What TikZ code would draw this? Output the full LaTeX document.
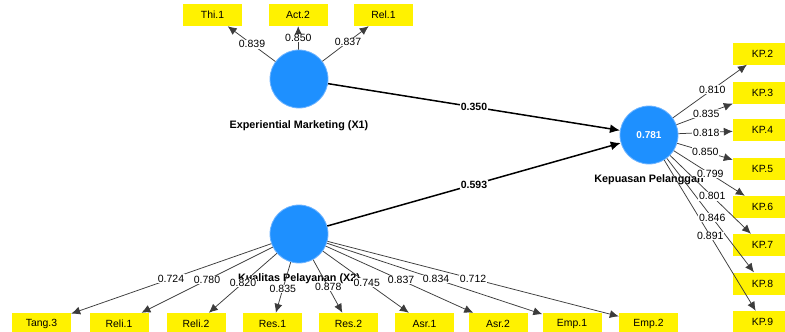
\documentclass[tikz,border=0pt]{standalone}
\usepackage{fontspec}
\setmainfont{Liberation Sans}
\usetikzlibrary{arrows.meta,calc}
\definecolor{lvblue}{RGB}{30,144,255}
\definecolor{lvedge}{RGB}{110,180,255}
\definecolor{loadgray}{RGB}{60,60,60}
\begin{document}
\begin{tikzpicture}[x=1pt,y=-1pt,
 lv/.style={circle,fill=lvblue,draw=lvedge,line width=0.8pt,minimum size=58pt,inner sep=0pt,font=\fontsize{10}{11}\selectfont\bfseries,text=white},
 ind/.style={rectangle,fill=yellow,minimum width=59pt,minimum height=22pt,inner sep=0pt,font=\fontsize{10.4}{11}\selectfont},
 loadarrow/.style={draw=loadgray,line width=0.75pt,-{Latex[length=9pt,width=8pt]}},
 strpath/.style={draw=black,line width=1.5pt,-{Latex[length=10pt,width=9pt]}},
 ll/.style={fill=white,inner sep=0.6pt,font=\fontsize{10.5}{11}\selectfont},
 pl/.style={fill=white,inner sep=0.6pt,font=\fontsize{10.5}{11}\selectfont\bfseries},
 nm/.style={font=\fontsize{10.8}{12}\selectfont\bfseries}
]
\clip (0,0) rectangle (785,332);
\fill[white] (0,0) rectangle (785,332);
% latent variables
\node[lv] (x1) at (299,79) {};
\node[lv] (x2) at (299,234) {};
\node[lv] (kp) at (649,135) {0.781};
\node[nm] (x1lbl) at ($(x1)+(0,47)$) {Experiential Marketing (X1)};
\node[nm] (x2lbl) at ($(x2)+(0,45)$) {Kualitas Pelayanan (X2)};
\node[nm] (kplbl) at ($(kp)+(0,45)$) {Kepuasan Pelanggan};
% indicators X1
\node[ind] (thi1) at (212.5,15) {Thi.1};
\node[ind] (act2) at (298,15) {Act.2};
\node[ind] (rel1) at (383.5,15) {Rel.1};
% indicators KP
\node[ind] (kp2) at (762.5,53.5) {KP.2};
\node[ind] (kp3) at (762.5,92.5) {KP.3};
\node[ind] (kp4) at (762.5,130) {KP.4};
\node[ind] (kp5) at (762.5,168.5) {KP.5};
\node[ind] (kp6) at (762.5,207) {KP.6};
\node[ind] (kp7) at (762.5,245) {KP.7};
\node[ind] (kp8) at (762.5,283.5) {KP.8};
\node[ind] (kp9) at (762.5,322) {KP.9};
% indicators X2
\node[ind] (tang3) at (41.5,324) {Tang.3};
\node[ind] (reli1) at (119,324) {Reli.1};
\node[ind] (reli2) at (196,324) {Reli.2};
\node[ind] (res1) at (272.5,324) {Res.1};
\node[ind] (res2) at (348.5,324) {Res.2};
\node[ind] (asr1) at (424.5,324) {Asr.1};
\node[ind] (asr2) at (498,324) {Asr.2};
\node[ind] (emp1) at (572,324) {Emp.1};
\node[ind] (emp2) at (648.5,324) {Emp.2};
% loadings X1
\draw[loadarrow] (x1) -- (thi1);
\draw[loadarrow] (x1) -- (act2);
\draw[loadarrow] (x1) -- (rel1);
% loadings KP
\foreach \b in {kp2,kp3,kp4,kp5,kp6,kp7,kp8,kp9}{\draw[loadarrow] (kp) -- (\b);}
% loadings X2
\foreach \b in {tang3,reli1,reli2,res1,res2,asr1,asr2,emp1,emp2}{\draw[loadarrow] (x2) -- (\b);}
% structural paths
\draw[strpath] (x1) -- (kp);
\draw[strpath] (x2) -- (kp);
% labels
\node[ll] at ($(x1)!0.543!(thi1)$) {0.839};
\node[ll] at ($(x1)!0.64!(act2)$) {0.850};
\node[ll] at ($(x1)!0.58!(rel1)$) {0.837};
\node[ll] at ($(kp)!0.557!(kp2)$) {0.810};
\node[ll] at ($(kp)!0.504!(kp3)$) {0.835};
\node[ll] at ($(kp)!0.504!(kp4)$) {0.818};
\node[ll] at ($(kp)!0.496!(kp5)$) {0.850};
\node[ll] at ($(kp)!0.54!(kp6)$) {0.799};
\node[ll] at ($(kp)!0.557!(kp7)$) {0.801};
\node[ll] at ($(kp)!0.557!(kp8)$) {0.846};
\node[ll] at ($(kp)!0.54!(kp9)$) {0.891};
\node[ll] at ($(x2)!0.497!(tang3)$) {0.724};
\node[ll] at ($(x2)!0.511!(reli1)$) {0.780};
\node[ll] at ($(x2)!0.544!(reli2)$) {0.820};
\node[ll] at ($(x2)!0.61!(res1)$) {0.835};
\node[ll] at ($(x2)!0.59!(res2)$) {0.878};
\node[ll] at ($(x2)!0.54!(asr1)$) {0.745};
\node[ll] at ($(x2)!0.513!(asr2)$) {0.837};
\node[ll] at ($(x2)!0.502!(emp1)$) {0.834};
\node[ll] at ($(x2)!0.498!(emp2)$) {0.712};
\node[pl] at ($(x1)!0.5!(kp)$) {0.350};
\node[pl] at ($(x2)!0.5!(kp)$) {0.593};
\end{tikzpicture}
\end{document}
